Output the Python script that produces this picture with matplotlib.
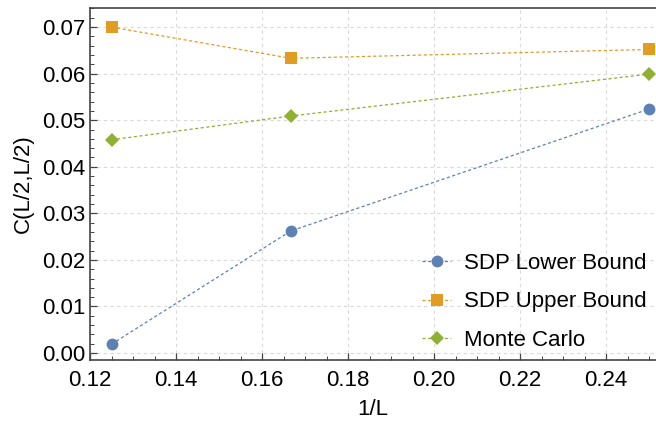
import matplotlib
matplotlib.use("Agg")
import matplotlib.pyplot as plt
from matplotlib.ticker import MultipleLocator, FormatStrFormatter

plt.rcParams['font.family'] = ['Liberation Sans', 'DejaVu Sans']

# data
inv_L = [1 / 8, 1 / 6, 1 / 4]
sdp_lower = [0.0019, 0.0262, 0.0524]
sdp_upper = [0.0700, 0.0633, 0.0652]
monte_carlo = [0.0458, 0.0509, 0.0599]

labels = ["SDP Lower Bound", "SDP Upper Bound", "Monte Carlo"]
colors = ["#5E81B5", "#E19C24", "#8FB032"]
markers = ["o", "s", "D"]
msizes = [8.5, 9, 7]

fig = plt.figure(figsize=(6.56, 4.22), dpi=100)
ax = fig.add_axes([90 / 656, 62 / 422, 566 / 656, 352 / 422])

for ys, lab, c, m, ms in zip([sdp_lower, sdp_upper, monte_carlo], labels, colors, markers, msizes):
    ax.plot(inv_L, ys, color=c, linestyle=(0, (2.5, 2)), linewidth=0.9,
            marker=m, markersize=ms, markeredgewidth=0, label=lab)

ax.set_xlim(0.12, 0.2516)
ax.set_ylim(-0.0015, 0.0741)
ax.xaxis.set_major_locator(MultipleLocator(0.02))
ax.xaxis.set_minor_locator(MultipleLocator(0.005))
ax.yaxis.set_major_locator(MultipleLocator(0.01))
ax.yaxis.set_minor_locator(MultipleLocator(0.002))
ax.xaxis.set_major_formatter(FormatStrFormatter("%.2f"))
ax.yaxis.set_major_formatter(FormatStrFormatter("%.2f"))

ax.grid(True, which="major", color="#d9d9d9", linestyle=(0, (3, 3)), linewidth=0.8)
ax.set_axisbelow(True)

for side in ["left", "bottom", "top"]:
    ax.spines[side].set_color("#444444")
    ax.spines[side].set_linewidth(1.2)
ax.spines["right"].set_visible(False)

ax.tick_params(which="both", direction="in", colors="#444444", labelcolor="black",
               labelsize=16, top=False, right=False)
ax.tick_params(which="major", length=5, width=0.9)
ax.tick_params(which="minor", length=3, width=0.7)
ax.tick_params(axis="x", pad=7)
ax.tick_params(axis="y", pad=3)

ax.set_xlabel("1/L", fontsize=16, labelpad=6)
ax.set_ylabel("C(L/2,L/2)", fontsize=16, labelpad=6)

ax.legend(loc="lower right", frameon=False, fontsize=16, handlelength=1.3,
          handletextpad=0.6, labelspacing=0.8, borderaxespad=0.0,
          bbox_to_anchor=(1.0, 0.0))

fig.savefig("out.png", dpi=100)
